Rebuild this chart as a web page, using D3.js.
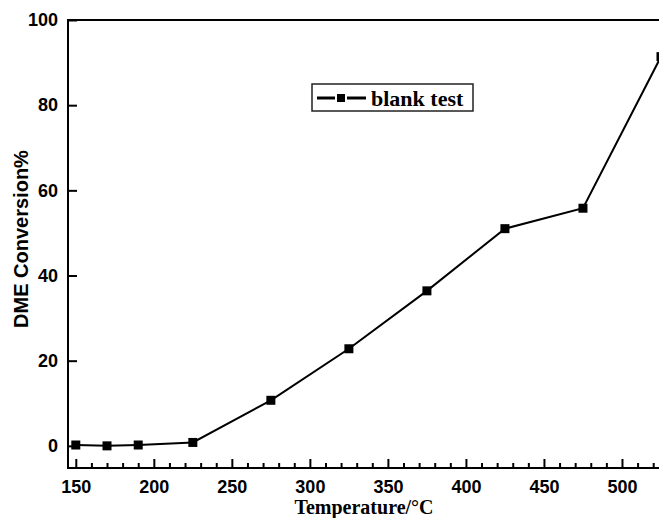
<!DOCTYPE html>
<html><head><meta charset="utf-8">
<script src="https://cdn.jsdelivr.net/npm/d3@7"></script>
<style>body{margin:0;background:#fff}svg{display:block}</style>
</head><body>
<svg id="c" width="659" height="518"></svg>
<script>
const temperatures = [150, 170, 190, 225, 275, 325, 375, 425, 475, 525];
const conversion = [0.2, 0.0, 0.2, 0.8, 10.7, 22.8, 36.4, 51.0, 55.8, 91.4];
const xTicks = [150, 200, 250, 300, 350, 400, 450, 500];
const yTicks = [0, 20, 40, 60, 80, 100];
const seriesName = "blank test";
const xTitle = "Temperature/\u00B0C";
const yTitle = "DME Conversion%";

const svg = d3.select("#c");
const L = 68, T = 20, B = 468, R = 700;
const x = d3.scaleLinear().domain([145, 550]).range([L, R]);
const y = d3.scaleLinear().domain([-5.2, 100]).range([B, T]);

// frame
svg.append("rect").attr("x", L).attr("y", T).attr("width", R - L).attr("height", B - T)
  .attr("fill", "none").attr("stroke", "#000").attr("stroke-width", 2);

const sans = "Arial, 'Liberation Sans', sans-serif";
const serif = "'Times New Roman', 'Liberation Serif', serif";

// x axis
const minor = d3.range(150, 541, 10).filter(v => v % 50 !== 0);
const gx = svg.append("g").attr("transform", `translate(0,${B})`);
gx.call(d3.axisBottom(x).tickValues(minor).tickSize(-5).tickFormat(""))
  .call(g => g.select(".domain").remove())
  .call(g => g.selectAll("line").attr("stroke-width", 2));
const gx2 = svg.append("g").attr("transform", `translate(0,${B})`);
gx2.call(d3.axisBottom(x).tickValues(xTicks).tickSize(-9).tickPadding(12).tickFormat(d3.format("d")))
  .call(g => g.select(".domain").remove())
  .call(g => g.selectAll("line").attr("stroke-width", 2))
  .call(g => g.selectAll("text").attr("font-family", sans)
    .attr("font-weight", "bold").attr("font-size", 18).attr("fill", "#000"));

// y axis
const gy = svg.append("g").attr("transform", `translate(${L},0)`);
gy.call(d3.axisLeft(y).tickValues(yTicks).tickSize(-9).tickPadding(10).tickFormat(d3.format("d")))
  .call(g => g.select(".domain").remove())
  .call(g => g.selectAll("line").attr("stroke-width", 2))
  .call(g => g.selectAll("text").attr("font-family", sans)
    .attr("font-weight", "bold").attr("font-size", 18).attr("fill", "#000"));

// axis titles
svg.append("text").attr("x", 364).attr("y", 514).attr("text-anchor", "middle")
  .attr("font-family", serif).attr("font-weight", "bold")
  .attr("font-size", 20).text(xTitle);
svg.append("text").attr("transform", "translate(28,239) rotate(-90)").attr("text-anchor", "middle")
  .attr("font-family", sans).attr("font-weight", "bold")
  .attr("font-size", 20).text(yTitle);

// series
const data = temperatures.map((t, i) => ({t, v: conversion[i]}));
svg.append("path").datum(data).attr("fill", "none").attr("stroke", "#000").attr("stroke-width", 2)
  .attr("d", d3.line().x(d => x(d.t)).y(d => y(d.v)));
const ms = 9;
svg.selectAll("rect.m").data(data).enter().append("rect").attr("class", "m")
  .attr("x", d => x(d.t) - ms / 2).attr("y", d => y(d.v) - ms / 2)
  .attr("width", ms).attr("height", ms).attr("fill", "#000");

// legend
const lg = svg.append("g");
lg.append("rect").attr("x", 312).attr("y", 84).attr("width", 161).attr("height", 27)
  .attr("fill", "#fff").attr("stroke", "#222").attr("stroke-width", 1.5);
lg.append("line").attr("x1", 317).attr("x2", 335).attr("y1", 98).attr("y2", 98)
  .attr("stroke", "#000").attr("stroke-width", 3);
lg.append("line").attr("x1", 347).attr("x2", 366).attr("y1", 98).attr("y2", 98)
  .attr("stroke", "#000").attr("stroke-width", 3);
lg.append("rect").attr("x", 341 - 4).attr("y", 98 - 4).attr("width", 8).attr("height", 8).attr("fill", "#000");
lg.append("text").attr("x", 371).attr("y", 106)
  .attr("font-family", serif).attr("font-weight", "bold")
  .attr("font-size", 22).text(seriesName);
</script>
</body></html>
